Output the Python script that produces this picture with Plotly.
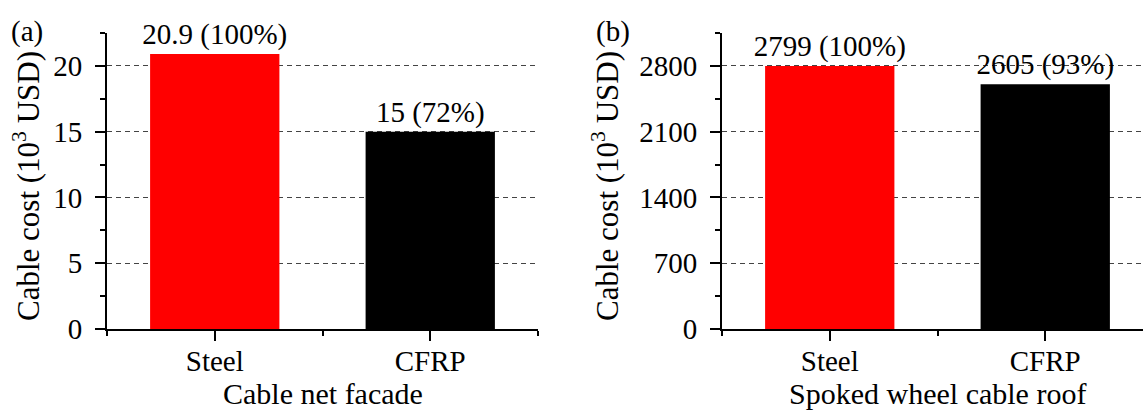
import plotly.graph_objects as go

# ---- data ----
categories = ["Steel", "CFRP"]
facade_cost = [20.9, 15]          # 10^3 USD
facade_pct = [100, 72]
roof_cost = [2799, 2605]          # 10^3 USD
roof_pct = [100, 93]
bar_colors = ["#ff0000", "#000000"]
facade_yticks = [0, 5, 10, 15, 20]
roof_yticks = [0, 700, 1400, 2100, 2800]
panel_titles = ["Cable net facade", "Spoked wheel cable roof"]
y_title = "Cable cost (10<sup>3</sup> USD)"
panel_letters = ["(a)", "(b)"]

W, H = 1143, 410
FONT = "Times New Roman, Liberation Serif, serif"
pos = list(range(len(categories)))

def labels(vals, pcts):
    return [f"{v} ({p}%)" for v, p in zip(vals, pcts)]

fig = go.Figure()
fig.add_trace(go.Bar(x=pos, y=facade_cost, width=0.6, marker=dict(color=bar_colors, line=dict(width=0)),
                     text=labels(facade_cost, facade_pct), textposition="outside",
                     textfont=dict(family=FONT, size=29, color="black"),
                     cliponaxis=False, constraintext="none", xaxis="x", yaxis="y", showlegend=False))
fig.add_trace(go.Bar(x=pos, y=roof_cost, width=0.6, marker=dict(color=bar_colors, line=dict(width=0)),
                     text=labels(roof_cost, roof_pct), textposition="outside",
                     textfont=dict(family=FONT, size=29, color="black"),
                     cliponaxis=False, constraintext="none", xaxis="x2", yaxis="y2", showlegend=False))

ydom = [1 - 329 / H, 1 - 33 / H]
common_x = dict(showline=True, linecolor="black", linewidth=2, ticks="outside", ticklen=10, tickwidth=2,
                tickcolor="black", tickvals=pos, ticktext=categories, showgrid=False, zeroline=False,
                automargin=False, tickfont=dict(family=FONT, size=29, color="black"),
                ticklabelstandoff=-5,
                minor=dict(ticks="outside", ticklen=5, tickwidth=2, tickcolor="black", dtick=1, tick0=0.5,
                           showgrid=False))
common_y = dict(showline=True, linecolor="black", linewidth=2, ticks="outside", ticklen=10, tickwidth=2,
                tickcolor="black", showgrid=True, gridcolor="#444444", gridwidth=1, griddash="5px,4px",
                zeroline=False, automargin=False, tickfont=dict(family=FONT, size=29, color="black"),
                ticklabelstandoff=7, domain=ydom)

fig.update_layout(
    width=W, height=H, margin=dict(l=0, r=0, t=0, b=0, autoexpand=False),
    paper_bgcolor="white", plot_bgcolor="white",
    font=dict(family=FONT, color="black"),
    xaxis=dict(domain=[107 / W, 538 / W], range=[-0.5, 1.5], anchor="y", **common_x),
    yaxis=dict(anchor="x", range=[0, 22.5], tickvals=facade_yticks,
               minor=dict(ticks="outside", ticklen=5, tickwidth=2, tickcolor="black", dtick=2.5, tick0=0,
                          showgrid=False), **common_y),
    xaxis2=dict(domain=[722 / W, 1.0], range=[-0.5, 1.5 - 10 / 215.5], anchor="y2", **common_x),
    yaxis2=dict(anchor="x2", range=[0, 3150], tickvals=roof_yticks,
                minor=dict(ticks="outside", ticklen=5, tickwidth=2, tickcolor="black", dtick=350, tick0=0,
                           showgrid=False), **common_y),
    bargap=0.4,
)

ann = []
# x titles
for title, xr in zip(panel_titles, ("x", "x2")):
    ann.append(dict(text=title, x=0.5, xref=xr, y=1 - 393 / H, yref="paper", showarrow=False,
                    font=dict(family=FONT, size=30, color="black"), xanchor="center", yanchor="middle"))
# y titles
for xc in (27, 606):
    ann.append(dict(text=y_title, x=xc / W, xref="paper", y=1 - 186 / H, yref="paper", showarrow=False,
                    textangle=-90, font=dict(family=FONT, size=31, color="black"),
                    xanchor="center", yanchor="middle"))
# panel letters
for letter, xc in zip(panel_letters, (27, 613)):
    ann.append(dict(text=letter, x=xc / W, xref="paper", y=1 - 32 / H, yref="paper", showarrow=False,
                    font=dict(family=FONT, size=29, color="black"), xanchor="center", yanchor="middle"))
fig.update_layout(annotations=ann)

fig.write_html("out.html")
